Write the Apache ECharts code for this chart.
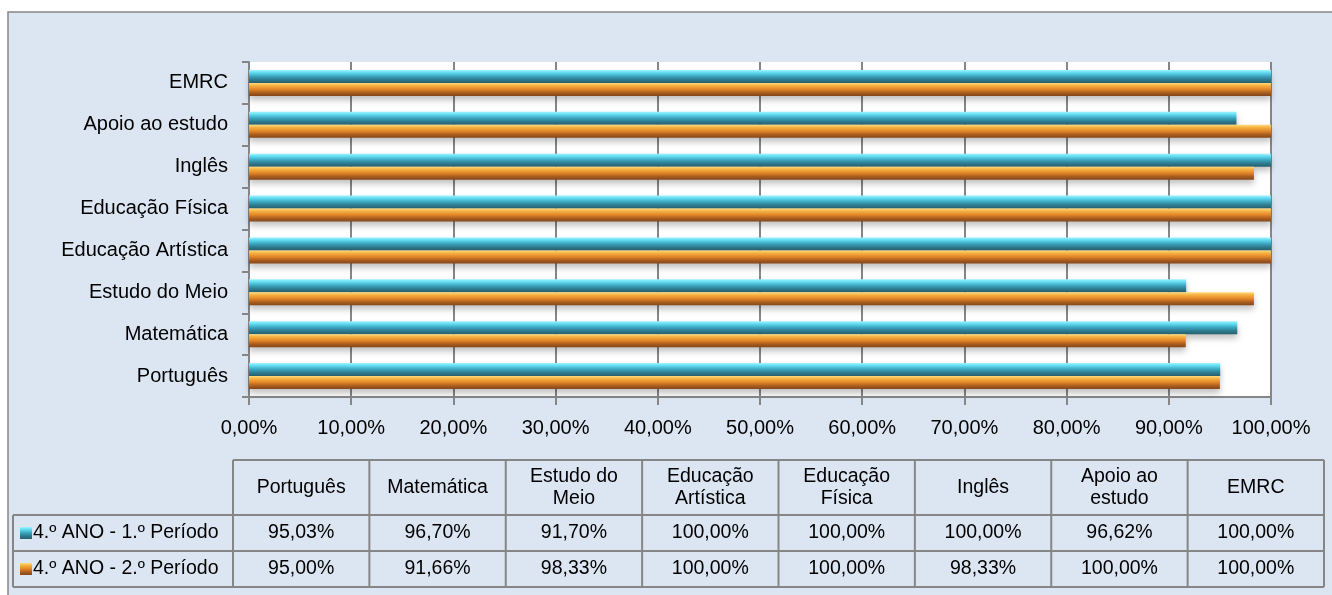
<!DOCTYPE html>
<html>
<head>
<meta charset="utf-8">
<title>4.º ANO</title>
<script src="https://cdn.jsdelivr.net/npm/echarts@6/dist/echarts.min.js"></script>
<style>
  html, body { margin: 0; padding: 0; background: #fff; }
  #chart { width: 1332px; height: 595px; }
</style>
</head>
<body>
<div id="chart"></div>
<script>
'use strict';
// 4.º ANO — taxas de sucesso por disciplina, 1.º vs 2.º período (barras horizontais + tabela de dados)

const SUBJECTS = ['Português', 'Matemática', 'Estudo do Meio', 'Educação Artística', 'Educação Física', 'Inglês', 'Apoio ao estudo', 'EMRC'];
const HEADERS = ['Português', 'Matemática', 'Estudo do\nMeio', 'Educação\nArtística', 'Educação\nFísica', 'Inglês', 'Apoio ao\nestudo', 'EMRC'];
const SERIES_NAMES = ['4.º ANO - 1.º Período', '4.º ANO - 2.º Período'];
const P1 = [95.03, 96.70, 91.70, 100, 100, 100, 96.62, 100];
const P2 = [95.00, 91.66, 98.33, 100, 100, 98.33, 100, 100];
const X_TICKS = [0, 10, 20, 30, 40, 50, 60, 70, 80, 90, 100];

const FONT = "'Liberation Sans', Arial, sans-serif";
const INK = '#000';
const RULE = '#868686';
const BG = '#dce6f2';

function pct(v) { return v.toFixed(2).replace('.', ',') + '%'; }

function grad(stops) {
  return new echarts.graphic.LinearGradient(0, 0, 0, 1, stops.map(([o, c]) => ({ offset: o, color: c })));
}
const CYAN = grad([[0, '#9ff4ff'], [0.2, '#62dcf2'], [0.5, '#3aa3bc'], [0.75, '#2e7a8e'], [1, '#275f6e']]);
const ORANGE = grad([[0, '#ffdc80'], [0.2, '#f6b241'], [0.5, '#e08428'], [0.75, '#aa5e1e'], [1, '#84461b']]);
const COLORS = [CYAN, ORANGE];

// table layout
const T = { left: 233, labelLeft: 13, right: 1324, headTop: 460, headH: 55, rowH: 36 };
T.colW = (T.right - T.left) / SUBJECTS.length;

function buildTable() {
  const g = [];
  const line = (x1, y1, x2, y2) => g.push({ type: 'line', shape: { x1, y1, x2, y2 }, style: { stroke: RULE, lineWidth: 2 }, silent: true });
  const text = (x, y, s, align) => g.push({ type: 'text', x, y, style: { text: s, font: '19.5px ' + FONT, fill: INK, align: align || 'center', verticalAlign: 'middle', lineHeight: 22 }, silent: true });

  const rowsTop = T.headTop + T.headH;
  const bottom = rowsTop + T.rowH * 2;
  line(T.left, T.headTop, T.right, T.headTop);
  [rowsTop, rowsTop + T.rowH, bottom].forEach(y => line(T.labelLeft, y, T.right, y));
  line(T.labelLeft, rowsTop, T.labelLeft, bottom);
  for (let i = 0; i <= SUBJECTS.length; i++) {
    const x = T.left + i * T.colW;
    line(x, T.headTop, x, bottom);
  }
  HEADERS.forEach((h, i) => text(T.left + (i + 0.5) * T.colW, T.headTop + T.headH / 2, h));
  [P1, P2].forEach((vals, r) => {
    const cy = rowsTop + (r + 0.5) * T.rowH;
    g.push({ type: 'rect', shape: { x: 20, y: cy - 6, width: 12, height: 12 }, style: { fill: COLORS[r] }, silent: true });
    text(33, cy, SERIES_NAMES[r], 'left');
    vals.forEach((v, i) => text(T.left + (i + 0.5) * T.colW, cy, pct(v)));
  });
  return g;
}

const chart = echarts.init(document.getElementById('chart'));
chart.setOption({
  backgroundColor: '#ffffff',
  animation: false,
  textStyle: { fontFamily: FONT },
  graphic: [
    { type: 'rect', z: -10, shape: { x: 8, y: 12, width: 1340, height: 600 }, style: { fill: BG, stroke: RULE, lineWidth: 1.5 }, silent: true },
    ...buildTable()
  ],
  grid: { left: 249, top: 62, right: 61, bottom: 198, show: true, backgroundColor: '#ffffff', borderWidth: 0 },
  xAxis: {
    type: 'value', min: 0, max: 100, interval: 10,
    axisLine: { show: true, lineStyle: { color: RULE, width: 2 } },
    axisTick: { show: true, length: 8, lineStyle: { color: RULE, width: 2 } },
    axisLabel: { color: INK, fontSize: 20, fontFamily: FONT, margin: 21, formatter: v => X_TICKS.includes(v) ? pct(v) : '' },
    splitLine: { show: true, lineStyle: { color: RULE, width: 2 } }
  },
  yAxis: {
    type: 'category', data: SUBJECTS,
    axisLine: { show: true, lineStyle: { color: RULE, width: 2 } },
    axisTick: { show: true, length: 7, lineStyle: { color: RULE, width: 2 } },
    axisLabel: { color: INK, fontSize: 20, fontFamily: FONT, margin: 21 },
    splitLine: { show: false }
  },
  series: [P1, P2].map((vals, i) => ({
    name: SERIES_NAMES[i], type: 'bar', data: vals,
    barGap: '0%', barCategoryGap: '38%',
    itemStyle: { color: COLORS[i], shadowColor: 'rgba(0,0,0,0.25)', shadowBlur: 6, shadowOffsetY: 4 }
  }))
});
window.addEventListener('resize', () => chart.resize());
</script>
</body>
</html>
